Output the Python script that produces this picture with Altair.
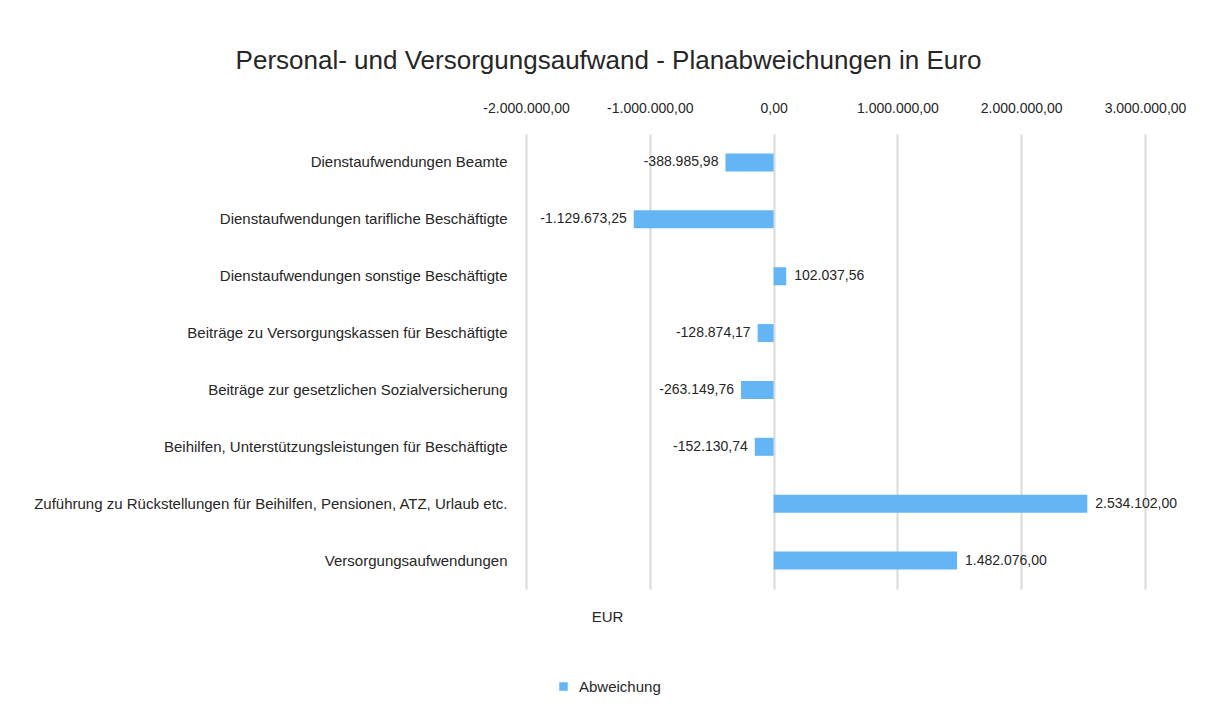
import altair as alt
import pandas as pd

categories = [
    "Dienstaufwendungen Beamte",
    "Dienstaufwendungen tarifliche Beschäftigte",
    "Dienstaufwendungen sonstige Beschäftigte",
    "Beiträge zu Versorgungskassen für Beschäftigte",
    "Beiträge zur gesetzlichen Sozialversicherung",
    "Beihilfen, Unterstützungsleistungen für Beschäftigte",
    "Zuführung zu Rückstellungen für Beihilfen, Pensionen, ATZ, Urlaub etc.",
    "Versorgungsaufwendungen",
]
values = [-388985.98, -1129673.25, 102037.56, -128874.17, -263149.76, -152130.74, 2534102.00, 1482076.00]
tick_values = [-2000000, -1000000, 0, 1000000, 2000000, 3000000]
series_name = "Abweichung"

df = pd.DataFrame({"Kategorie": categories, "Wert": values, "Serie": [series_name] * len(values)})

FONT = "Liberation Sans"
BAR = "#64B5F6"
TXT = "#262626"

x_scale = alt.Scale(domain=[-2000000, 3000000], nice=False, zero=False)
y_enc = alt.Y("Kategorie:N", sort=categories,
              axis=alt.Axis(title=None, labelFontSize=15, labelColor=TXT, labelFont=FONT,
                            ticks=False, tickSize=0, domain=False, labelPadding=19, labelLimit=600))

base = alt.Chart(df)

bars = base.mark_bar(size=18).encode(
    x=alt.X("Wert:Q", scale=x_scale,
            axis=alt.Axis(orient="top", title=None, format=",.2f", values=tick_values,
                          labelFontSize=14, labelColor=TXT, labelFont=FONT, ticks=False, tickSize=0,
                          labelOverlap=False, labelBound=False, labelFlush=False,
                          domain=False, labelPadding=19, grid=True, gridColor="#d9d9d9", gridWidth=2)),
    y=y_enc,
    color=alt.Color("Serie:N", scale=alt.Scale(range=[BAR]),
                    legend=alt.Legend(title=None, orient="none", legendX=30, legendY=545,
                                      symbolType="square", symbolSize=72, labelFontSize=15,
                                      labelOffset=8,
                                      labelColor=TXT, labelFont=FONT, symbolStrokeWidth=0)),
)

neg = base.transform_filter("datum.Wert < 0").mark_text(align="right", baseline="middle", dx=-7,
                                                       fontSize=14, font=FONT, color=TXT).encode(
    x=alt.X("Wert:Q", scale=x_scale,
            axis=alt.Axis(orient="bottom", title="EUR", labels=False, ticks=False, tickSize=0, domain=False,
                          grid=False, titleFontSize=15, titleFontWeight="normal", titleFont=FONT,
                          titleColor=TXT, titleX=81, titlePadding=20)),
    y=y_enc,
    text=alt.Text("Wert:Q", format=",.2f"),
)
pos = base.transform_filter("datum.Wert >= 0").mark_text(align="left", baseline="middle", dx=8,
                                                        fontSize=14, font=FONT, color=TXT).encode(
    x=alt.X("Wert:Q", scale=x_scale, axis=None),
    y=y_enc,
    text=alt.Text("Wert:Q", format=",.2f"),
)

chart = alt.layer(bars, neg, pos).resolve_axis(x="independent").properties(
    width=619, height=455,
    autosize=alt.AutoSizeParams(type="none"),
    padding={"left": 518, "top": 126, "right": 53, "bottom": 107},
    title=alt.Title("Personal- und Versorgungsaufwand - Planabweichungen in Euro",
                    fontSize=26, font=FONT, fontWeight="normal", color=TXT,
                    anchor="middle", dx=-227, offset=27),
).configure(
    locale={"number": {"decimal": ",", "thousands": ".", "grouping": [3],
                       "currency": ["", " €"], "minus": "-"}}
).configure_view(stroke=None)

chart.save("out.html", embed_options={"renderer": "svg", "actions": False})
